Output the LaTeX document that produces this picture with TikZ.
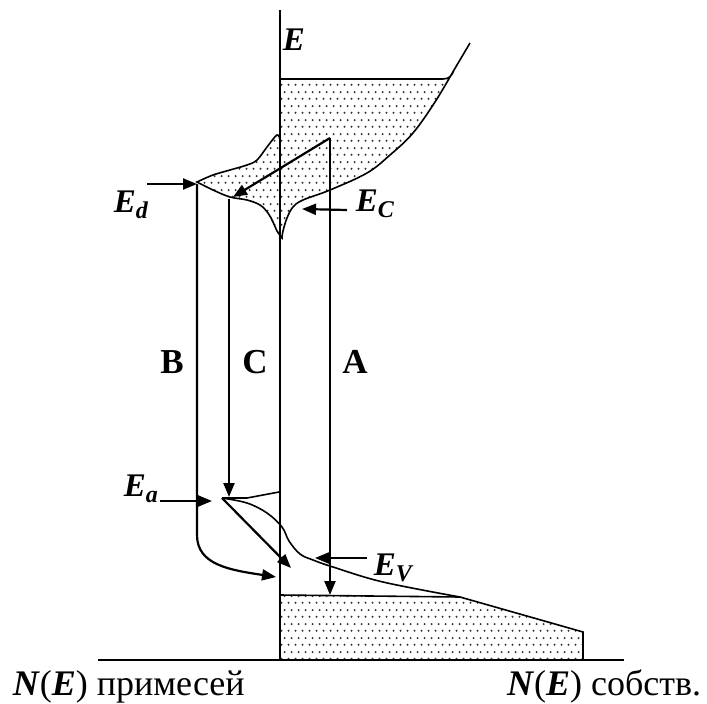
\documentclass[tikz,border=0pt]{standalone}
\usepackage{fontspec}
\setmainfont{Liberation Serif}
\usetikzlibrary{arrows.meta, patterns.meta, positioning}
\tikzdeclarepattern{
  name=bandots,
  type=uncolored,
  bottom left={(0pt,0pt)},
  top right={(7pt,14pt)},
  tile size={(7pt,14pt)},
  code={
    \pgfpathcircle{\pgfpoint{1.75pt}{3.5pt}}{1.2pt}
    \pgfpathcircle{\pgfpoint{5.25pt}{10.5pt}}{1.2pt}
    \pgfusepath{fill}
  }
}
\tikzset{
  every picture/.style={line width=1.6pt},
  axis/.style={line width=1.9pt},
  band/.style={pattern=bandots, pattern color=black!80, line width=1.6pt},
  arrow/.style={-{Triangle[length=14pt,width=11pt]}, line width=2.2pt},
  lbl/.style={font=\fontsize{35}{40}\selectfont\bfseries, inner sep=0pt},
  elbl/.style={font=\fontsize{33}{36}\selectfont\bfseries\itshape, inner sep=0pt},
  caption/.style={font=\fontsize{36}{40}\selectfont, inner sep=0pt},
}
\newcommand\lowsub[1]{\raisebox{-0.2em}{\fontsize{24}{24}\selectfont #1}}
\begin{document}
\begin{tikzpicture}[x=1pt, y=-1pt]
  \useasboundingbox (0,0) rectangle (707,704);
  % conduction band with donor band
  \draw[band] (280,140) -- (280,79) -- (443,79) .. controls (450,79) and (452,75) .. (454,70)
    -- plot[smooth, tension=0.6] coordinates {(454,70) (435,102) (413,133) (390,155) (367,173) (330,190) (303,200) (293,207) (287,218) (283,231) (282,238)}
    -- plot[smooth, tension=0.6] coordinates {(282,238) (277,231) (273,222) (268,213) (260,205) (247,200) (230,197) (213,190) (197,182)}
    -- plot[smooth, tension=0.6] coordinates {(197,182) (213,175) (230,170) (247,165) (257,160) (267,147) (277,135) (280,140)};
  \draw (454,70) -- (470,43);
  % valence band
  \draw[band] (280,595) -- (460,597) -- (583,632) -- (583,660) -- (280,660) -- cycle;
  % acceptor level and band tail
  \coordinate (Acc) at (222,498);
  \draw (Acc) -- (247,498) -- (279,492);
  \draw plot[smooth, tension=0.6] coordinates {(222,498) (247,503) (267,513) (282,527) (289,541) (300,554) (313,560) (333,567) (383,582) (460,597)};
  % axes
  \draw[axis] (280,10) -- (280,660);
  \draw[axis] (98,660) -- (624,660);
  % arrow ends
  \coordinate (EdTail) at (147,184);
  \coordinate (Ed) at (197,184);
  \coordinate (Bbend) at (197,535);
  \coordinate (Bend) at (276,577);
  \coordinate (Ctop) at (229,199);
  \coordinate (Cend) at (229,497);
  \coordinate (Atop) at (330,138);
  \coordinate (Aend) at (330,595);
  \coordinate (Ctip) at (233,197);
  \coordinate (EcTail) at (347,210);
  \coordinate (EcTip) at (302,209);
  \coordinate (EaTail) at (160,501);
  \coordinate (EaTip) at (212,501);
  \coordinate (DiagEnd) at (291,568);
  \coordinate (EvTail) at (367,558);
  \coordinate (EvTip) at (315,558);
  % transitions
  \draw[arrow] (EdTail) -- (Ed);
  \draw[arrow] (Ed) -- (Bbend) .. controls (197,565) and (230,570) .. (Bend);
  \draw[arrow] (Ctop) -- (Cend);
  \draw[arrow] (Atop) -- (Aend);
  \draw[arrow] (Atop) -- (Ctip);
  \draw[arrow] (EcTail) -- (EcTip);
  \draw[arrow] (EaTail) -- (EaTip);
  \draw[arrow] (Acc) -- (DiagEnd);
  \draw[arrow] (EvTail) -- (EvTip);
  % labels
  \node[elbl, anchor=base west] (Elab) at (282,50) {E};
  \node[elbl, anchor=base west] (EdLab) at (113,212) {E\lowsub{d}};
  \node[elbl, anchor=base west] (EcLab) at (355,211) {E\lowsub{C}};
  \node[elbl, anchor=base west] (EaLab) at (123,496) {E\lowsub{a}};
  \node[elbl, anchor=base west] (EvLab) at (373,575) {E\lowsub{V}};
  \node[lbl, anchor=base] (Blab) at (172,373) {B};
  \node[lbl, anchor=base] (Clab) at (255,373) {C};
  \node[lbl, anchor=base] (Alab) at (355,373) {A};
  \node[caption, anchor=base west] (impur) at (12,695) {\textbf{\textit{N}}(\textbf{\textit{E}}) примесей};
  \node[caption, anchor=base east] (intr) at (702,695) {\textbf{\textit{N}}(\textbf{\textit{E}}) собств.};
\end{tikzpicture}
\end{document}
